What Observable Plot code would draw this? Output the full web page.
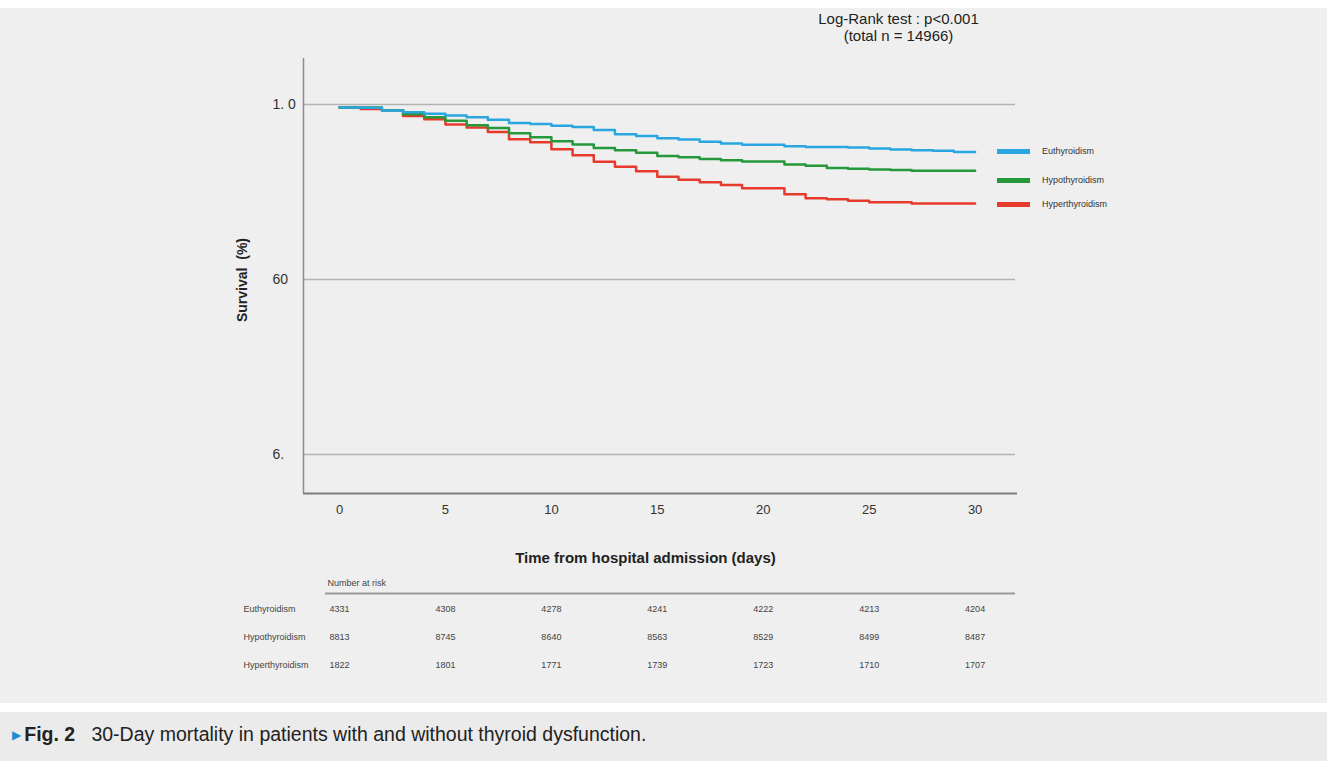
<!DOCTYPE html>
<html><head><meta charset="utf-8">
<script src="https://cdn.jsdelivr.net/npm/d3@7"></script>
<script src="https://cdn.jsdelivr.net/npm/@observablehq/plot@0.6"></script>
<style>
html,body{margin:0;padding:0;}
body{background:#fff;width:1327px;height:761px;overflow:hidden;position:relative;font-family:"Liberation Sans",Arial,sans-serif;}
#panel{position:absolute;left:0;top:8px;width:1327px;height:695px;background:#efefef;}
#cap{position:absolute;left:0;top:712px;width:1327px;height:49px;background:#ebebeb;font-size:19.5px;color:#222;}
#cap .in{position:absolute;left:12px;top:10px;white-space:pre;line-height:24px;}
#cap .tri{color:#1c8fd1;font-family:"DejaVu Sans",sans-serif;font-size:12px;position:relative;top:-2px;margin-right:3px;}
#chart{position:absolute;left:0;top:0;}
#risk{position:absolute;left:0;top:570px;}
.lg{position:absolute;left:997px;height:12px;}
.lg .sw{position:absolute;left:0;top:3px;width:33px;height:5px;}
.lg .tx{position:absolute;left:45px;top:0;font-size:9px;color:#333;white-space:nowrap;line-height:11px;}
</style></head>
<body>
<div id="panel"></div>
<div id="chart"></div>
<div id="risk"></div>
<div id="legend"></div>
<div id="cap"><div class="in"><span class="tri">▶</span><b>Fig. 2</b>   30-Day mortality in patients with and without thyroid dysfunction.</div></div>
<script>
// ---- data ----
const groups = ["Euthyroidism", "Hypothyroidism", "Hyperthyroidism"];
const colors = ["#2aa7e1", "#25983b", "#e63a2c"];
const days = [0,1,2,3,4,5,6,7,8,9,10,11,12,13,14,15,16,17,18,19,20,21,22,23,24,25,26,27,28,29,30];
const euthyroid = [99.3,99.25,98.6,98.2,97.9,97.5,97.05,96.5,95.75,95.55,95.15,94.85,94.15,93.2,92.8,92.25,92.0,91.5,91.05,90.8,90.8,90.45,90.3,90.3,90.15,89.95,89.7,89.55,89.4,89.15,89.15];
const hypothyroid = [99.3,99.3,98.65,97.75,97.05,96.3,95.25,94.6,93.4,92.5,91.6,90.85,90.05,89.55,88.95,88.2,87.95,87.55,87.25,86.95,86.95,86.3,86.0,85.5,85.3,85.15,85.0,84.85,84.85,84.85,84.85];
const hyperthyroid = [99.3,98.95,98.65,97.35,96.6,95.4,94.75,93.7,92.05,91.35,89.75,88.4,86.9,85.75,84.75,83.5,82.8,82.2,81.6,80.85,80.85,79.5,78.55,78.35,78.0,77.65,77.65,77.35,77.35,77.35,77.35];
const xTicks = [0,5,10,15,20,25,30];
const yTicks = [100, 60, 20];
const yTickLabels = ["1. 0", "60", "6."];
const riskTimes = [0,5,10,15,20,25,30];
const riskEu = [4331,4308,4278,4241,4222,4213,4204];
const riskHypo = [8813,8745,8640,8563,8529,8499,8487];
const riskHyper = [1822,1801,1771,1739,1723,1710,1707];
const xLabel = "Time from hospital admission (days)";
const yLabel = "Survival  (%)";
const annotation = "Log-Rank test : p<0.001\n(total n = 14966)";
const riskTitle = "Number at risk";

// ---- build tables ----
const seriesVals = [euthyroid, hypothyroid, hyperthyroid];
const curveRows = [];
[2,1,0].forEach(gi => days.forEach((d, i) => curveRows.push({group: groups[gi], day: d, value: seriesVals[gi][i]})));
const riskVals = [riskEu, riskHypo, riskHyper];
const riskRows = [];
groups.forEach((g, gi) => riskTimes.forEach((t, ti) => riskRows.push({group: g, day: t, n: String(riskVals[gi][ti])})));
const yLabMap = new Map(yTicks.map((t, i) => [t, yTickLabels[i]]));

const xDomain = [-1.7, 32];
const yDomain = [11.1, 110.5];
const font = "Liberation Sans, Arial, sans-serif";

const chart = Plot.plot({
  width: 1327, height: 580,
  marginTop: 58, marginBottom: 87, marginLeft: 303, marginRight: 310,
  style: {background: "transparent", fontFamily: font, color: "#222", overflow: "visible"},
  x: {domain: xDomain},
  y: {domain: yDomain},
  color: {domain: groups, range: colors},
  marks: [
    Plot.ruleY(yTicks, {stroke: "#b3b3b3", strokeWidth: 1.5, insetRight: 2}),
    Plot.ruleX([xDomain[0]], {stroke: "#8c8c8c", strokeWidth: 1.5}),
    Plot.ruleY([yDomain[0]], {stroke: "#7c7c7c", strokeWidth: 2}),
    Plot.axisX({ticks: xTicks, tickSize: 0, tickPadding: 11, fontSize: 13, label: null, fill: "#333"}),
    Plot.axisY({ticks: yTicks, tickFormat: d => yLabMap.get(d), tickSize: 0, tickPadding: 0, textAnchor: "start", dx: -31, fontSize: 14, label: null, fill: "#333"}),
    Plot.line(curveRows, {x: "day", y: "value", z: "group", stroke: "group", curve: "step-after", strokeWidth: 2.5}),
    Plot.text([yLabel], {frameAnchor: "left", textAnchor: "middle", dx: -61, dy: 4, rotate: -90, fontWeight: "bold", fontSize: 14, fill: "#222"}),
    Plot.text([xLabel], {frameAnchor: "bottom", textAnchor: "middle", dx: -15, dy: 69, fontWeight: "bold", fontSize: 15, fill: "#222"}),
    Plot.text([annotation], {frameAnchor: "top-right", dx: -119, dy: -31, textAnchor: "middle", lineAnchor: "middle", fontSize: 15, lineHeight: 1.13, fill: "#222"})
  ]
});
document.getElementById("chart").appendChild(chart);

const risk = Plot.plot({
  width: 1327, height: 110,
  marginTop: 39, marginBottom: 15, marginLeft: 303, marginRight: 310,
  style: {background: "transparent", fontFamily: font, overflow: "visible"},
  x: {domain: xDomain, axis: null},
  y: {type: "point", domain: groups, padding: 0},
  marks: [
    Plot.axisY({tickSize: 0, tickPadding: 0, textAnchor: "start", dx: -60, fontSize: 9, label: null, fill: "#444"}),
    Plot.text(riskRows, {x: "day", y: "group", text: "n", fontSize: 9, fill: "#444"}),
    Plot.ruleY([groups[0]], {dy: -16, insetLeft: 22, insetRight: 2, stroke: "#9a9a9a", strokeWidth: 2}),
    Plot.text([riskTitle], {frameAnchor: "top-left", dx: 24, dy: -30, textAnchor: "start", fontSize: 9, fill: "#444"})
  ]
});
document.getElementById("risk").appendChild(risk);

// legend
const legendTops = [146, 175, 199];
const lg = document.getElementById("legend");
groups.forEach((g, i) => {
  const d = document.createElement("div");
  d.className = "lg";
  d.style.top = legendTops[i] + "px";
  d.innerHTML = `<span class="sw" style="background:${colors[i]}"></span><span class="tx">${g}</span>`;
  lg.appendChild(d);
});
</script>
</body></html>
